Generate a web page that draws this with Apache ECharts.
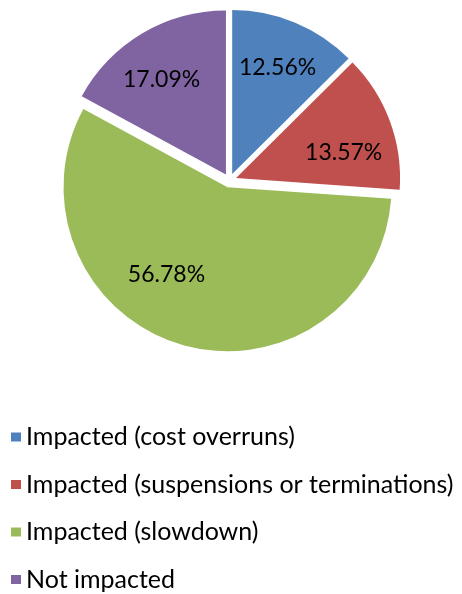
<!DOCTYPE html>
<html>
<head>
<meta charset="utf-8">
<script src="https://cdn.jsdelivr.net/npm/echarts@6/dist/echarts.min.js"></script>
<style>
html,body{margin:0;padding:0;background:#fff;}
#c{width:462px;height:594px;}
</style>
</head>
<body>
<div id="c"></div>
<script>
const categories = [
  'Impacted (cost overruns)',
  'Impacted (suspensions or terminations)',
  'Impacted (slowdown)',
  'Not impacted'
];
const values = [12.56, 13.57, 56.78, 17.09];
const colors = ['#4F81BD', '#C0504D', '#9BBB59', '#8064A2'];
// best-fit style nudges of the data labels (label styling only)
const labelNudge = [[0, 2], [-3, 16], [-28, -26], [-4, 6]];

const FONT = 'Lato';
const center = [229.5, 180.5];
const R = 164;

const chart = echarts.init(document.getElementById('c'), null, {renderer: 'canvas'});

const baseData = categories.map((name, i) => ({
  name: name,
  value: values[i],
  selected: true,
  itemStyle: {color: colors[i]}
}));
const labelData = categories.map((name, i) => ({
  name: name,
  value: values[i],
  selected: true
}));

chart.setOption({
  animation: false,
  backgroundColor: '#fff',
  legend: {
    orient: 'vertical',
    left: 11,
    top: 424.5,
    height: 170,
    padding: 0,
    icon: 'rect',
    itemWidth: 10,
    itemHeight: 9,
    itemGap: 22.5,
    itemTextGap: 10,
    selectedMode: false,
    data: categories,
    textStyle: {fontFamily: FONT, fontSize: 25, color: '#000', lineHeight: 25}
  },
  series: [
    {
      type: 'pie',
      center: center,
      radius: [0, R],
      startAngle: 90,
      clockwise: true,
      selectedMode: 'multiple',
      selectedOffset: 7,
      silent: true,
      label: {show: false},
      labelLine: {show: false},
      emphasis: {disabled: true},
      select: {itemStyle: {borderWidth: 0}},
      itemStyle: {borderWidth: 0},
      data: baseData
    },
    {
      type: 'pie',
      center: center,
      radius: [66, R],
      startAngle: 90,
      clockwise: true,
      selectedMode: 'multiple',
      selectedOffset: 7,
      silent: true,
      itemStyle: {color: 'rgba(0,0,0,0)', borderWidth: 0},
      select: {itemStyle: {color: 'rgba(0,0,0,0)', borderWidth: 0}, label: {color: '#000'}},
      emphasis: {disabled: true},
      labelLine: {show: false},
      label: {
        show: true,
        position: 'inside',
        fontFamily: FONT,
        fontSize: 23,
        color: '#000',
        formatter: p => p.value.toFixed(2) + '%'
      },
      labelLayout: function (params) {
        const n = labelNudge[params.dataIndex];
        return {dx: n[0], dy: n[1]};
      },
      data: labelData
    }
  ]
});
</script>
</body>
</html>
